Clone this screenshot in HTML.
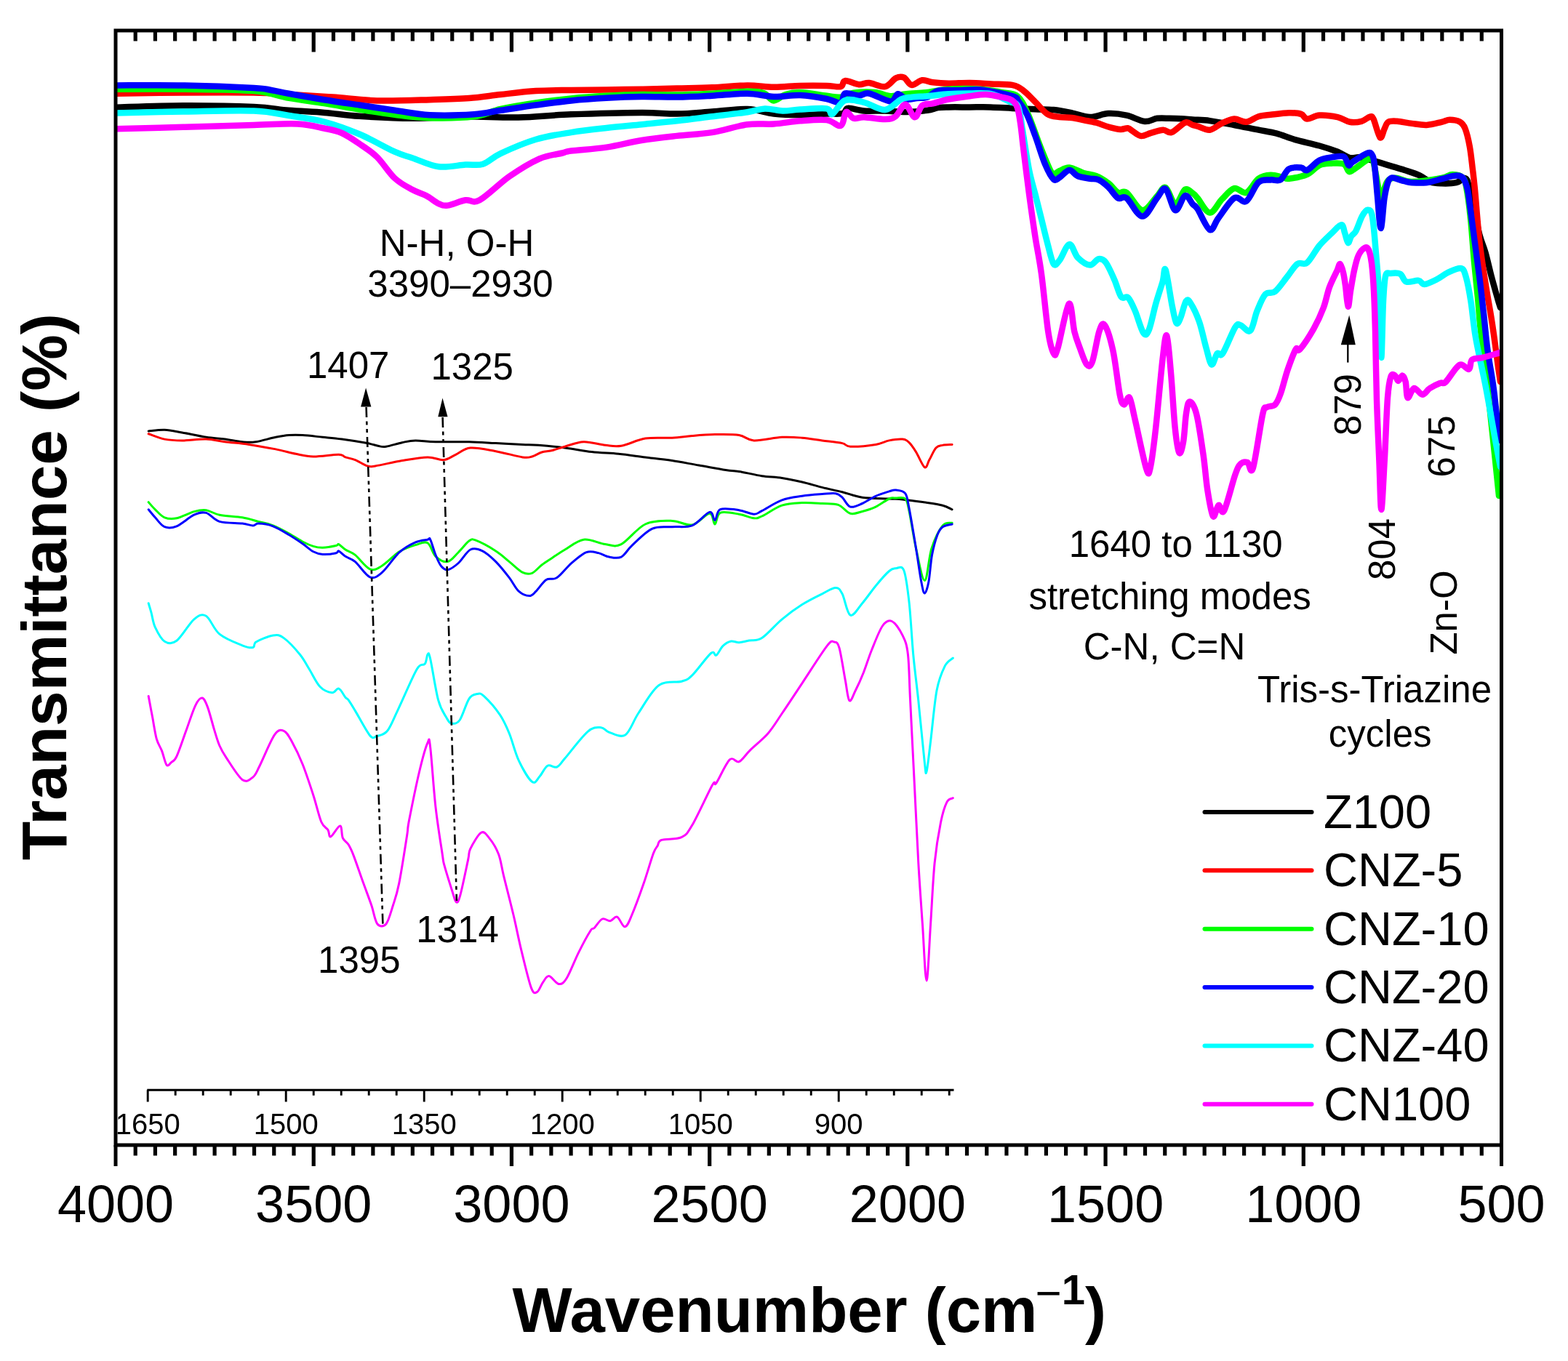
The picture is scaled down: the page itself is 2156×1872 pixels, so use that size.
<!DOCTYPE html><html><head><meta charset="utf-8"><title>FTIR spectra</title><style>html,body{margin:0;padding:0;background:#fff;}svg{display:block;}text{font-family:'Liberation Sans', Arial, Helvetica, sans-serif;fill:#000;}</style></head><body>
<svg width="2156" height="1872" viewBox="0 0 2156 1872">
<rect width="2156" height="1872" fill="#fff"/>
<defs><clipPath id="pc"><rect x="159.00" y="42.00" width="1905.50" height="1533.00"/></clipPath></defs>
<g clip-path="url(#pc)" fill="none" stroke-linejoin="round" stroke-linecap="round" stroke-width="8.5">
<path stroke="#000" d="M159.0 147.7C174.5 147.3 220.3 145.3 252.0 145.2C283.7 145.1 324.8 145.8 349.0 146.9C373.2 148.0 380.8 150.5 397.0 151.8C413.2 153.1 429.8 153.6 446.0 154.9C462.2 156.2 473.8 158.5 494.0 159.8C514.2 161.1 542.7 162.6 567.0 162.7C591.3 162.8 615.7 160.5 640.0 160.3C664.3 160.1 688.5 162.0 712.7 161.5C736.9 161.0 757.0 158.4 785.3 157.3C813.5 156.2 858.0 155.0 882.2 154.9C906.4 154.8 914.6 156.8 930.7 156.6C946.9 156.4 963.0 154.6 979.1 153.5C995.2 152.4 1013.5 149.6 1027.6 150.1C1041.7 150.6 1051.8 155.2 1063.9 156.6C1076.0 158.0 1088.2 158.3 1100.3 158.3C1112.4 158.3 1126.8 157.0 1136.6 156.6C1146.4 156.2 1154.1 157.3 1159.0 156.0C1163.9 154.7 1161.2 149.5 1166.0 148.9C1170.8 148.3 1179.5 151.9 1188.0 152.5C1196.5 153.1 1207.3 152.2 1217.0 152.5C1226.7 152.8 1236.3 154.1 1246.0 154.0C1255.7 153.9 1267.7 152.8 1275.0 151.8C1282.3 150.8 1285.2 148.8 1290.0 148.1C1294.8 147.4 1296.8 147.5 1304.0 147.4C1311.2 147.3 1323.3 147.4 1333.0 147.4C1342.7 147.4 1352.2 147.2 1362.0 147.4C1371.8 147.7 1381.8 148.4 1392.0 148.9C1402.2 149.4 1414.1 149.8 1423.5 150.2C1432.9 150.6 1440.2 150.2 1448.6 151.1C1457.0 151.9 1465.3 153.6 1473.7 155.3C1482.1 157.0 1490.4 161.0 1498.8 161.1C1507.2 161.2 1515.6 156.5 1524.0 156.1C1532.4 155.7 1540.7 156.8 1549.0 158.6C1557.3 160.4 1567.0 166.3 1574.0 167.0C1581.0 167.7 1585.3 163.5 1591.0 162.8C1596.7 162.1 1602.5 162.7 1608.0 162.8C1613.5 162.9 1618.7 163.0 1624.0 163.3C1629.3 163.6 1633.4 164.0 1640.0 164.5C1646.6 165.0 1654.0 164.8 1663.5 166.1C1673.0 167.3 1685.8 169.9 1697.0 172.0C1708.2 174.1 1720.7 176.8 1730.5 178.7C1740.3 180.6 1747.2 181.5 1755.6 183.7C1764.0 185.9 1770.9 189.3 1780.7 192.1C1790.5 194.9 1804.4 197.7 1814.2 200.5C1824.0 203.3 1832.3 206.1 1839.3 208.8C1846.3 211.6 1850.9 215.7 1856.0 217.0C1861.1 218.3 1864.2 215.7 1870.0 216.5C1875.8 217.3 1883.7 219.8 1890.5 221.7C1897.3 223.6 1904.1 225.8 1910.9 227.8C1917.7 229.9 1924.4 231.8 1931.2 234.0C1938.0 236.2 1945.7 238.4 1951.6 241.1C1957.5 243.8 1961.7 248.3 1966.8 250.2C1971.9 252.1 1976.2 252.1 1982.1 252.3C1988.0 252.5 1997.0 252.4 2002.4 251.2C2007.8 250.0 2011.7 244.4 2014.6 245.1C2017.5 245.8 2017.8 249.4 2019.7 255.3C2021.6 261.2 2023.4 269.3 2025.8 280.5C2028.2 291.7 2031.4 311.2 2034.2 322.3C2037.0 333.4 2039.7 337.6 2042.5 347.4C2045.3 357.2 2048.1 370.3 2050.9 380.9C2053.7 391.5 2057.3 404.0 2059.3 411.0C2061.3 418.0 2062.4 421.0 2063.0 423.0"/>
<path stroke="#f00" d="M159.8 128.8C175.2 128.6 220.4 127.7 251.9 127.5C283.4 127.3 324.1 127.1 348.8 127.5C373.5 127.9 381.8 129.0 400.0 130.0C418.2 131.0 438.1 132.2 457.8 133.6C477.5 135.0 496.2 137.8 518.4 138.4C540.6 139.0 569.9 137.8 591.0 137.2C612.1 136.6 628.8 136.2 645.0 135.0C661.2 133.8 673.1 131.7 688.4 130.0C703.7 128.3 720.8 126.1 736.9 125.1C753.0 124.1 769.1 124.2 785.3 123.9C801.4 123.6 817.6 123.6 833.8 123.4C849.9 123.2 866.1 123.0 882.2 122.7C898.4 122.4 914.6 121.9 930.7 121.5C946.9 121.1 963.0 121.0 979.1 120.3C995.2 119.6 1013.5 117.5 1027.6 117.4C1041.7 117.3 1051.8 119.7 1063.9 119.8C1076.0 119.9 1088.2 118.2 1100.3 117.9C1112.4 117.6 1127.3 117.7 1136.6 117.9C1145.9 118.1 1151.8 120.2 1156.0 119.1C1160.2 118.0 1157.8 111.6 1162.0 111.1C1166.2 110.6 1175.5 115.7 1181.0 116.2C1186.5 116.7 1189.0 113.5 1195.0 114.0C1201.0 114.5 1210.8 120.2 1217.0 119.1C1223.2 118.0 1227.7 109.5 1232.0 107.4C1236.3 105.3 1239.4 105.1 1243.0 106.7C1246.6 108.3 1249.3 116.3 1253.5 116.9C1257.7 117.5 1263.2 110.9 1268.0 110.3C1272.8 109.7 1276.5 112.6 1282.6 113.3C1288.7 114.0 1295.9 114.6 1304.4 114.7C1312.9 114.8 1323.8 113.9 1333.5 114.0C1343.2 114.1 1352.9 114.9 1362.6 115.4C1372.3 115.9 1384.3 115.5 1391.6 116.9C1398.9 118.3 1401.2 120.1 1406.5 124.0C1411.8 127.9 1417.9 134.7 1423.5 140.2C1429.1 145.7 1434.6 153.4 1440.2 156.9C1445.8 160.4 1451.4 160.2 1457.0 161.1C1462.6 161.9 1468.1 161.3 1473.7 162.0C1479.3 162.7 1484.9 164.2 1490.5 165.3C1496.1 166.4 1501.6 167.2 1507.2 168.7C1512.8 170.2 1518.4 173.0 1524.0 174.5C1529.6 176.0 1536.2 177.6 1540.7 177.9C1545.2 178.2 1547.9 175.8 1550.7 176.2C1553.5 176.6 1554.3 178.6 1557.4 180.4C1560.5 182.2 1565.0 186.7 1569.2 187.1C1573.4 187.5 1577.6 184.3 1582.6 182.9C1587.6 181.5 1594.6 178.8 1599.3 178.7C1604.0 178.5 1606.0 183.7 1611.0 182.0C1616.0 180.3 1624.7 170.4 1629.5 168.7C1634.3 167.0 1637.1 171.2 1640.0 172.0C1642.9 172.8 1642.8 172.6 1646.7 173.7C1650.6 174.8 1657.9 179.4 1663.5 178.7C1669.1 178.0 1674.6 172.0 1680.2 169.5C1685.8 167.0 1691.4 163.9 1697.0 163.6C1702.6 163.3 1708.1 168.4 1713.7 167.8C1719.3 167.2 1724.9 162.0 1730.5 160.3C1736.1 158.6 1740.2 158.6 1747.2 157.8C1754.2 157.0 1765.3 155.5 1772.3 155.3C1779.3 155.2 1784.8 155.5 1789.0 156.9C1793.2 158.3 1793.2 163.3 1797.4 163.6C1801.6 163.9 1807.2 159.0 1814.2 158.6C1821.2 158.2 1832.3 159.6 1839.3 161.1C1846.3 162.6 1850.5 166.9 1856.0 167.8C1861.5 168.8 1867.6 168.0 1872.2 166.8C1876.8 165.6 1880.7 161.2 1883.4 160.7C1886.1 160.2 1886.1 158.9 1888.5 163.7C1890.9 168.4 1895.1 187.0 1897.6 189.2C1900.1 191.4 1901.8 180.6 1903.7 177.0C1905.6 173.4 1905.9 169.5 1908.8 167.8C1911.7 166.1 1915.6 166.5 1921.0 166.8C1926.4 167.2 1934.6 169.1 1941.4 169.9C1948.2 170.8 1954.9 172.2 1961.7 171.9C1968.5 171.6 1976.8 169.0 1982.1 167.8C1987.4 166.6 1989.1 164.8 1993.3 164.8C1997.5 164.8 2004.0 165.8 2007.5 167.8C2011.0 169.8 2012.4 171.4 2014.6 177.0C2016.8 182.6 2019.1 192.2 2020.8 201.4C2022.5 210.6 2023.6 222.1 2024.8 231.9C2026.0 241.7 2026.3 243.5 2027.9 260.0C2029.5 276.5 2031.8 309.1 2034.2 330.7C2036.6 352.2 2039.7 371.2 2042.5 389.3C2045.3 407.4 2048.7 425.2 2050.9 439.5C2053.2 453.8 2054.5 464.1 2056.0 475.0C2057.5 485.9 2058.8 496.7 2060.0 505.0C2061.2 513.3 2062.5 521.7 2063.0 525.0"/>
<path stroke="#0f0" d="M159.8 122.7C175.2 122.7 220.4 122.3 251.9 122.7C283.4 123.1 324.6 123.1 348.8 125.1C373.0 127.1 381.1 132.0 397.2 134.8C413.3 137.6 429.5 139.5 445.7 142.1C461.9 144.7 478.0 148.0 494.2 150.6C510.4 153.2 526.5 155.9 542.6 157.8C558.7 159.7 572.8 161.8 591.0 162.2C609.2 162.6 635.4 162.3 651.6 160.3C667.8 158.3 674.2 153.1 688.4 150.0C702.6 146.9 720.8 143.9 736.9 141.5C753.0 139.1 769.1 137.0 785.3 135.4C801.4 133.8 817.6 132.7 833.8 131.8C849.9 130.9 866.1 130.3 882.2 130.1C898.4 129.9 914.6 130.8 930.7 130.6C946.9 130.4 963.0 129.5 979.1 128.7C995.2 127.9 1015.8 125.9 1027.6 125.8C1039.4 125.7 1044.0 125.9 1050.0 128.0C1056.0 130.1 1058.9 138.1 1063.9 138.4C1068.9 138.7 1073.9 131.9 1080.0 130.0C1086.1 128.1 1090.9 126.7 1100.3 127.0C1109.7 127.3 1127.3 130.7 1136.6 131.8C1145.9 132.9 1149.8 134.3 1156.0 133.6C1162.2 132.9 1165.8 128.9 1173.6 127.8C1181.4 126.7 1194.2 126.3 1202.7 127.0C1211.2 127.7 1217.2 131.8 1224.5 132.2C1231.8 132.6 1237.8 130.1 1246.3 129.2C1254.8 128.3 1265.6 128.1 1275.3 127.0C1285.0 125.9 1292.5 123.4 1304.4 122.7C1316.4 122.0 1334.9 122.0 1347.0 122.7C1359.1 123.4 1368.3 125.4 1377.0 127.0C1385.7 128.6 1392.8 127.2 1398.9 132.2C1405.0 137.2 1408.3 145.5 1413.5 156.9C1418.7 168.3 1424.8 187.3 1430.0 200.5C1435.2 213.7 1441.7 229.6 1445.0 236.0C1448.3 242.4 1448.0 239.2 1450.0 239.0C1452.0 238.8 1453.6 236.4 1457.0 235.0C1460.4 233.6 1464.9 230.1 1470.4 230.6C1475.9 231.1 1483.9 236.1 1490.0 238.0C1496.1 239.9 1501.3 239.7 1507.0 242.0C1512.7 244.3 1518.9 248.2 1524.0 252.0C1529.1 255.8 1533.2 262.8 1537.4 265.0C1541.6 267.2 1543.5 261.0 1549.1 265.0C1554.7 269.0 1563.8 288.4 1570.8 289.2C1577.8 290.0 1585.6 275.2 1590.9 270.0C1596.2 264.8 1598.5 256.2 1602.7 258.0C1606.9 259.8 1611.6 280.4 1616.1 280.8C1620.6 281.2 1625.5 263.2 1629.5 260.7C1633.5 258.2 1637.1 263.8 1640.0 265.8C1642.9 267.8 1642.8 268.0 1646.7 272.5C1650.6 277.0 1657.9 292.3 1663.5 292.6C1669.1 292.9 1674.6 279.7 1680.2 274.1C1685.8 268.5 1691.4 260.6 1697.0 259.1C1702.6 257.6 1708.1 267.1 1713.7 264.9C1719.3 262.7 1724.9 249.7 1730.5 245.7C1736.1 241.7 1741.6 241.0 1747.2 240.7C1752.8 240.4 1759.8 243.2 1764.0 244.0C1768.2 244.8 1766.7 246.4 1772.3 245.7C1777.9 245.0 1790.4 242.9 1797.4 239.8C1804.4 236.7 1808.6 229.8 1814.2 227.3C1819.8 224.8 1825.3 225.0 1830.9 224.7C1836.5 224.4 1843.8 223.8 1847.7 225.6C1851.6 227.4 1852.4 234.2 1854.4 235.6C1856.5 237.0 1855.7 236.7 1860.0 234.0C1864.3 231.3 1875.8 222.4 1880.3 219.7C1884.8 217.0 1885.1 214.6 1887.0 218.0C1888.9 221.4 1890.0 231.0 1891.9 240.0C1893.8 249.0 1896.4 269.5 1898.6 272.0C1900.8 274.5 1903.1 259.2 1905.0 255.0C1906.9 250.8 1907.3 248.7 1910.0 247.0C1912.7 245.3 1915.8 244.5 1921.0 245.0C1926.2 245.5 1930.8 250.0 1941.0 250.0C1951.2 250.0 1972.7 246.7 1982.0 245.0C1991.3 243.3 1992.0 240.0 1997.0 240.0C2002.0 240.0 2008.7 241.3 2012.0 245.0C2015.3 248.7 2015.3 252.8 2017.0 262.0C2018.7 271.2 2020.3 283.7 2022.0 300.0C2023.7 316.3 2025.3 341.7 2027.0 360.0C2028.7 378.3 2030.5 394.2 2032.0 410.0C2033.5 425.8 2033.8 435.0 2036.0 455.0C2038.2 475.0 2042.2 505.0 2045.0 530.0C2047.8 555.0 2050.3 579.7 2053.0 605.0C2055.7 630.3 2059.7 669.2 2061.0 682.0"/>
<path stroke="#00f" d="M159.8 117.4C175.2 117.4 220.4 116.8 251.9 117.4C283.4 118.0 328.6 119.9 348.8 121.0C369.0 122.1 364.9 122.7 373.0 124.0C381.1 125.3 385.1 126.6 397.2 128.8C409.3 131.0 429.5 134.6 445.7 137.2C461.9 139.8 478.0 142.1 494.2 144.5C510.4 146.9 526.5 149.5 542.6 151.8C558.7 154.1 572.8 157.4 591.0 158.3C609.2 159.2 635.4 158.4 651.6 157.3C667.8 156.2 674.2 153.9 688.4 151.8C702.6 149.7 720.8 146.7 736.9 144.5C753.0 142.3 769.1 140.0 785.3 138.4C801.4 136.8 817.6 135.7 833.8 134.8C849.9 133.9 866.1 133.3 882.2 133.1C898.4 132.9 914.6 133.8 930.7 133.6C946.9 133.4 963.0 132.5 979.1 131.7C995.2 130.9 1013.5 128.6 1027.6 128.8C1041.7 129.0 1051.8 132.6 1063.9 133.0C1076.0 133.4 1088.2 130.5 1100.3 131.0C1112.4 131.5 1127.3 134.2 1136.6 136.0C1145.9 137.8 1151.8 142.8 1156.0 141.5C1160.2 140.2 1157.8 130.2 1162.0 128.5C1166.2 126.8 1175.5 131.4 1181.0 131.4C1186.5 131.4 1187.8 127.2 1195.0 128.5C1202.2 129.8 1217.9 139.3 1224.5 139.4C1231.1 139.5 1231.0 129.7 1234.6 129.2C1238.2 128.7 1241.9 135.5 1246.3 136.5C1250.7 137.5 1256.0 135.6 1260.8 135.1C1265.6 134.6 1270.4 135.3 1275.3 133.6C1280.2 131.9 1282.7 126.5 1290.0 124.9C1297.3 123.3 1309.3 124.5 1319.0 124.2C1328.7 124.0 1338.3 122.7 1348.0 123.4C1357.7 124.1 1369.0 126.8 1377.0 128.5C1385.0 130.2 1392.2 131.9 1396.0 133.6C1399.8 135.3 1397.4 134.6 1400.0 138.5C1402.6 142.4 1407.9 148.8 1411.8 156.9C1415.7 165.0 1419.3 175.7 1423.5 187.1C1427.7 198.5 1432.7 215.7 1436.9 225.6C1441.1 235.5 1445.2 243.4 1448.6 246.5C1451.9 249.6 1453.4 246.1 1457.0 244.0C1460.6 241.9 1466.2 234.3 1470.4 234.0C1474.6 233.7 1477.4 240.4 1482.1 242.3C1486.8 244.2 1494.0 244.8 1498.8 245.7C1503.5 246.5 1506.4 245.5 1510.6 247.4C1514.8 249.3 1519.5 253.2 1524.0 257.4C1528.5 261.6 1533.2 270.0 1537.4 272.5C1541.6 275.0 1543.5 268.3 1549.1 272.5C1554.7 276.7 1563.8 297.6 1570.8 297.6C1577.8 297.6 1585.6 278.8 1590.9 272.5C1596.2 266.2 1598.5 257.1 1602.7 259.9C1606.9 262.7 1611.6 287.7 1616.1 289.2C1620.6 290.7 1625.5 270.5 1629.5 269.1C1633.5 267.7 1637.1 277.7 1640.0 280.8C1642.9 283.9 1642.8 281.6 1646.7 287.5C1650.6 293.4 1658.8 313.9 1663.5 316.0C1668.2 318.1 1669.6 307.4 1675.2 300.1C1680.8 292.9 1690.6 276.4 1697.0 272.5C1703.4 268.6 1708.1 280.3 1713.7 276.7C1719.3 273.1 1724.9 255.6 1730.5 250.7C1736.1 245.8 1742.2 247.9 1747.2 247.4C1752.2 246.9 1756.4 249.9 1760.6 247.4C1764.8 244.9 1767.6 235.1 1772.3 232.3C1777.0 229.5 1784.8 230.3 1789.0 230.6C1793.2 230.9 1793.2 235.7 1797.4 234.0C1801.6 232.3 1808.6 223.5 1814.2 220.6C1819.8 217.7 1825.3 217.2 1830.9 216.4C1836.5 215.6 1843.8 213.7 1847.7 215.5C1851.6 217.3 1852.4 226.1 1854.4 227.3C1856.5 228.5 1855.7 225.6 1860.0 222.8C1864.3 220.0 1875.7 211.9 1880.3 210.5C1884.9 209.1 1885.8 211.0 1887.5 214.6C1889.2 218.2 1889.4 222.7 1890.5 231.9C1891.6 241.1 1892.7 256.3 1894.0 270.0C1895.3 283.7 1897.0 313.5 1898.6 313.9C1900.2 314.2 1901.9 282.7 1903.6 272.1C1905.3 261.5 1906.9 254.9 1908.6 250.3C1910.3 245.7 1911.5 245.2 1913.6 244.5C1915.7 243.8 1918.1 245.4 1921.0 246.2C1923.9 247.0 1927.8 248.4 1931.2 249.2C1934.6 250.0 1936.4 250.9 1941.4 251.2C1946.4 251.5 1954.2 252.0 1961.0 251.2C1967.8 250.4 1976.0 247.7 1982.1 246.2C1988.1 244.7 1993.1 242.8 1997.3 242.1C2001.5 241.4 2005.0 241.4 2007.5 242.1C2010.0 242.8 2010.9 243.2 2012.6 246.2C2014.3 249.2 2016.3 254.3 2017.7 260.0C2019.1 265.7 2019.2 268.7 2020.8 280.5C2022.4 292.3 2025.3 314.0 2027.5 330.7C2029.7 347.4 2032.1 364.2 2034.2 380.9C2036.3 397.6 2038.1 414.1 2040.0 431.0C2041.9 447.9 2043.2 465.1 2045.5 482.0C2047.8 498.9 2050.9 513.3 2053.5 532.6C2056.1 551.9 2059.4 585.8 2061.0 598.0C2062.6 610.2 2062.7 604.7 2063.0 606.0"/>
<path stroke="#0ff" d="M159.8 155.4C175.2 155.1 220.4 154.0 251.9 153.5C283.4 153.0 324.6 151.6 348.8 152.5C373.0 153.4 381.1 156.5 397.2 159.0C413.3 161.5 429.5 163.2 445.7 167.5C461.9 171.8 478.0 177.6 494.2 184.5C510.4 191.4 530.5 203.2 542.6 208.7C554.7 214.1 556.7 213.8 566.8 217.2C576.9 220.6 591.0 227.8 603.2 229.3C615.4 230.9 629.9 227.1 640.0 226.5C650.1 225.9 655.9 228.3 664.0 225.7C672.1 223.1 676.2 216.8 688.4 211.1C700.5 205.4 720.8 196.5 736.9 191.7C753.0 186.9 769.1 184.7 785.3 182.1C801.4 179.5 817.6 177.8 833.8 176.0C849.9 174.2 866.1 172.8 882.2 171.2C898.4 169.6 914.6 168.1 930.7 166.3C946.9 164.5 963.0 162.3 979.1 160.3C995.2 158.3 1015.5 156.0 1027.6 154.2C1039.7 152.4 1043.7 149.7 1051.8 149.4C1059.9 149.1 1067.9 152.3 1076.0 152.5C1084.1 152.7 1090.2 151.1 1100.3 150.6C1110.4 150.1 1129.2 148.3 1136.6 149.4C1144.0 150.5 1140.3 158.8 1144.5 156.9C1148.7 155.0 1154.8 140.7 1162.0 138.0C1169.2 135.3 1178.8 138.7 1188.0 140.9C1197.2 143.1 1208.5 151.7 1217.0 151.0C1225.5 150.3 1232.9 139.4 1239.0 136.5C1245.1 133.6 1247.5 134.3 1253.5 133.6C1259.5 132.9 1266.5 132.9 1275.0 132.2C1283.5 131.5 1294.7 129.8 1304.4 129.2C1314.2 128.6 1323.8 128.5 1333.5 128.5C1343.2 128.5 1353.4 127.3 1362.6 129.2C1371.8 131.1 1382.5 137.1 1388.7 140.0C1394.9 142.9 1397.0 139.6 1400.0 146.9C1403.0 154.2 1404.2 169.2 1406.7 183.7C1409.2 198.2 1412.3 220.1 1415.1 234.0C1417.9 247.9 1420.7 256.2 1423.5 267.4C1426.3 278.5 1429.1 289.7 1431.9 300.9C1434.7 312.1 1437.4 324.1 1440.2 334.4C1443.0 344.7 1445.8 359.0 1448.6 362.9C1451.4 366.8 1453.4 362.4 1457.0 357.9C1460.6 353.4 1466.2 336.7 1470.4 336.1C1474.6 335.5 1477.4 349.8 1482.1 354.5C1486.8 359.2 1494.0 364.3 1498.8 364.6C1503.5 364.9 1507.0 356.8 1510.6 356.2C1514.2 355.6 1517.0 356.4 1520.6 361.2C1524.2 365.9 1528.8 376.8 1532.3 384.7C1535.8 392.6 1538.5 404.4 1541.7 408.5C1544.9 412.6 1548.0 406.2 1551.2 409.4C1554.4 412.5 1557.2 419.3 1560.7 427.4C1564.2 435.5 1568.9 453.4 1572.1 457.8C1575.3 462.2 1576.8 460.6 1579.7 454.0C1582.6 447.4 1586.1 429.0 1589.2 417.9C1592.3 406.8 1596.3 395.4 1598.6 387.6C1600.8 379.8 1600.5 365.6 1602.7 371.3C1604.9 377.0 1609.4 409.5 1611.9 421.7C1614.4 433.9 1615.7 442.0 1617.6 444.5C1619.5 447.0 1621.1 442.0 1623.3 436.9C1625.5 431.8 1628.5 417.3 1630.9 414.1C1633.3 410.9 1634.6 413.1 1637.6 417.9C1640.6 422.6 1645.5 432.5 1649.0 442.6C1652.5 452.7 1655.7 468.8 1658.5 478.6C1661.3 488.4 1663.5 500.1 1666.0 501.4C1668.5 502.7 1671.1 488.7 1673.6 486.2C1676.1 483.7 1677.1 492.2 1681.2 486.2C1685.3 480.2 1694.2 456.7 1698.3 450.2C1702.4 443.7 1702.4 446.5 1705.9 447.3C1709.4 448.1 1715.4 458.2 1719.2 454.9C1723.0 451.6 1725.1 435.8 1728.6 427.4C1732.1 419.0 1735.9 409.1 1740.0 404.7C1744.1 400.3 1748.2 405.0 1753.3 400.9C1758.4 396.8 1765.3 386.3 1770.4 380.0C1775.5 373.7 1779.5 366.0 1784.0 362.9C1788.5 359.8 1792.4 365.4 1797.4 361.2C1802.4 357.0 1808.6 344.5 1814.2 337.8C1819.8 331.1 1825.9 325.8 1830.9 321.0C1835.9 316.2 1841.3 309.5 1844.3 309.3C1847.3 309.1 1847.5 315.9 1849.0 320.0C1850.5 324.1 1852.0 333.2 1853.5 334.0C1855.0 334.8 1856.2 327.7 1858.0 325.0C1859.8 322.3 1861.9 322.3 1864.4 317.7C1866.9 313.1 1870.2 302.4 1872.8 297.6C1875.4 292.8 1877.8 288.9 1880.1 288.8C1882.4 288.7 1884.8 287.4 1886.8 297.2C1888.8 307.0 1890.2 327.9 1891.9 347.4C1893.6 366.9 1895.7 390.3 1896.9 414.4C1898.1 438.5 1898.5 491.9 1899.3 491.9C1900.1 491.9 1901.0 433.2 1902.0 414.4C1903.0 395.6 1903.5 385.6 1905.2 379.2C1906.9 372.8 1908.7 376.4 1912.0 376.0C1915.3 375.6 1921.7 374.8 1925.3 376.7C1928.9 378.6 1929.5 386.1 1933.7 387.6C1937.9 389.1 1946.3 385.3 1950.5 385.9C1954.7 386.5 1954.6 391.3 1958.8 391.0C1963.0 390.7 1970.0 387.1 1975.6 384.3C1981.2 381.5 1986.7 376.7 1992.3 374.2C1997.9 371.7 2005.1 368.1 2009.0 369.2C2012.9 370.3 2013.5 373.4 2015.7 380.9C2017.9 388.4 2020.2 400.4 2022.4 414.4C2024.6 428.3 2025.7 444.9 2029.1 464.6C2032.5 484.3 2038.5 509.2 2043.0 532.6C2047.5 556.0 2052.7 586.9 2056.0 605.1C2059.3 623.3 2061.8 635.9 2063.0 642.0"/>
<path stroke="#f0f" d="M159.8 177.2C175.2 176.8 220.4 175.7 251.9 174.8C283.4 173.9 322.6 172.6 348.8 171.9C375.1 171.2 393.2 169.7 409.4 170.5C425.5 171.3 435.6 174.4 445.7 176.5C455.8 178.6 461.9 179.4 470.0 183.0C478.1 186.6 486.1 192.3 494.2 197.8C502.3 203.3 510.3 208.1 518.4 216.0C526.5 223.9 534.5 237.5 542.6 245.0C550.7 252.5 559.5 256.8 566.8 260.8C574.1 264.9 580.1 266.1 586.2 269.3C592.3 272.5 598.4 278.0 603.2 280.2C608.1 282.4 609.2 283.4 615.3 282.6C621.4 281.8 632.6 276.5 640.0 275.3C647.4 274.1 649.3 280.8 659.4 275.3C669.5 269.9 686.9 252.1 700.6 242.6C714.3 233.1 729.6 223.8 741.7 218.4C753.8 213.1 765.9 212.3 773.2 210.5C780.5 208.7 775.2 208.8 785.3 207.5C795.4 206.2 817.6 205.0 833.8 202.6C849.9 200.2 866.1 195.6 882.2 193.0C898.4 190.4 914.6 188.7 930.7 186.9C946.9 185.1 963.0 184.7 979.1 182.1C995.2 179.5 1013.5 173.1 1027.6 171.2C1041.7 169.3 1051.8 171.3 1063.9 170.5C1076.0 169.7 1088.2 167.2 1100.3 166.3C1112.4 165.4 1127.3 164.0 1136.6 165.1C1145.9 166.2 1151.5 174.7 1156.0 172.8C1160.5 171.0 1160.5 155.7 1163.4 154.0C1166.3 152.3 1169.5 161.5 1173.6 162.7C1177.7 163.9 1180.8 161.0 1188.1 161.2C1195.4 161.4 1209.9 164.3 1217.2 164.1C1224.5 163.9 1227.1 163.2 1231.7 159.8C1236.3 156.4 1240.4 143.6 1244.8 143.8C1249.2 144.0 1254.0 161.0 1257.9 161.2C1261.8 161.4 1263.9 148.3 1268.0 145.2C1272.1 142.0 1276.5 143.8 1282.6 142.3C1288.7 140.9 1295.9 138.2 1304.4 136.5C1312.9 134.8 1325.0 133.3 1333.5 132.2C1342.0 131.1 1348.0 129.8 1355.3 130.0C1362.6 130.2 1371.0 132.3 1377.1 133.6C1383.1 134.9 1388.0 135.6 1391.6 138.0C1395.2 140.4 1396.9 142.4 1398.9 148.1C1400.9 153.8 1402.1 163.3 1403.4 172.0C1404.7 180.7 1404.8 184.6 1406.7 200.5C1408.7 216.4 1412.3 246.5 1415.1 267.4C1417.9 288.3 1420.7 307.9 1423.5 326.0C1426.3 344.1 1429.0 354.7 1431.9 376.3C1434.9 397.9 1438.4 437.6 1441.2 455.9C1444.0 474.2 1446.6 482.4 1448.8 486.2C1451.0 490.0 1451.0 490.0 1454.5 478.6C1458.0 467.2 1465.9 421.7 1469.7 417.9C1473.5 414.1 1474.8 445.8 1477.3 455.9C1479.8 466.0 1482.0 471.0 1484.8 478.6C1487.6 486.2 1491.4 498.2 1494.3 501.4C1497.2 504.6 1499.1 505.2 1501.9 497.6C1504.8 490.0 1508.6 464.3 1511.4 455.9C1514.2 447.5 1515.8 442.9 1519.0 447.3C1522.2 451.7 1526.9 466.4 1530.4 482.4C1533.9 498.4 1537.3 530.8 1539.8 543.1C1542.3 555.4 1543.3 555.8 1545.5 556.4C1547.7 557.0 1550.6 543.4 1553.1 546.9C1555.6 550.4 1556.9 561.2 1560.7 577.3C1564.5 593.4 1572.4 632.6 1575.9 643.7C1579.4 654.8 1579.4 652.9 1581.6 643.7C1583.8 634.5 1586.4 613.6 1589.2 588.6C1592.0 563.6 1596.1 515.0 1598.6 493.8C1601.1 472.6 1602.4 458.4 1604.3 461.6C1606.2 464.8 1608.1 491.6 1610.0 512.8C1611.9 534.0 1613.8 570.3 1615.7 588.6C1617.6 606.9 1619.5 619.6 1621.4 622.8C1623.3 626.0 1625.5 616.5 1627.1 607.6C1628.7 598.8 1629.5 578.9 1630.9 569.7C1632.3 560.5 1633.3 552.6 1635.7 552.6C1638.1 552.6 1642.0 557.4 1645.2 569.7C1648.4 582.0 1652.2 609.2 1654.7 626.6C1657.2 644.0 1658.1 660.1 1660.3 674.0C1662.5 687.9 1665.4 706.5 1667.9 710.0C1670.4 713.5 1673.0 696.1 1675.5 694.9C1678.0 693.6 1679.3 709.5 1683.1 702.5C1686.9 695.5 1694.5 663.9 1698.3 653.1C1702.1 642.4 1703.1 640.8 1705.9 638.0C1708.8 635.2 1712.6 635.1 1715.4 636.1C1718.2 637.1 1719.4 654.8 1722.9 643.7C1726.4 632.6 1733.0 583.6 1736.2 569.7C1739.4 555.8 1739.1 562.4 1741.9 560.2C1744.8 558.0 1750.1 559.6 1753.3 556.4C1756.5 553.2 1758.1 549.1 1760.9 541.2C1763.8 533.3 1766.9 519.1 1770.4 509.0C1773.9 498.9 1778.9 485.2 1781.7 480.5C1784.5 475.8 1783.3 485.2 1787.4 480.5C1791.5 475.8 1801.0 461.6 1806.4 452.1C1811.8 442.6 1816.1 433.1 1819.7 423.6C1823.3 414.1 1824.8 403.6 1828.0 395.0C1831.2 386.4 1836.1 377.3 1838.6 372.0C1841.0 366.7 1841.3 362.5 1842.7 363.0C1844.1 363.5 1845.8 370.0 1847.0 375.0C1848.2 380.0 1848.9 385.2 1850.0 393.0C1851.1 400.8 1852.4 420.3 1853.6 421.5C1854.8 422.7 1855.6 408.2 1857.0 400.0C1858.4 391.8 1860.2 380.2 1862.0 372.0C1863.8 363.8 1865.5 356.2 1868.0 351.0C1870.5 345.8 1874.5 341.9 1876.8 340.7C1879.1 339.5 1880.5 340.4 1882.0 344.0C1883.5 347.6 1884.8 352.7 1886.0 362.0C1887.2 371.3 1888.2 384.5 1889.0 400.0C1889.8 415.5 1890.3 430.0 1891.0 455.0C1891.7 480.0 1892.1 520.2 1893.0 550.0C1893.9 579.8 1895.4 608.8 1896.4 634.0C1897.5 659.2 1898.1 701.0 1899.3 701.0C1900.5 701.0 1902.2 659.8 1903.7 634.1C1905.2 608.5 1906.5 566.5 1908.0 547.1C1909.5 527.8 1910.7 523.1 1912.4 518.0C1914.1 512.9 1916.5 515.6 1918.2 516.6C1919.9 517.6 1920.9 523.9 1922.6 523.9C1924.3 523.9 1926.7 516.4 1928.4 516.6C1930.1 516.8 1931.5 520.2 1932.7 525.3C1933.9 530.4 1933.7 545.6 1935.6 547.1C1937.5 548.6 1940.9 534.7 1944.3 534.0C1947.7 533.3 1952.3 542.7 1955.9 542.7C1959.5 542.7 1962.0 536.6 1966.1 534.0C1970.2 531.4 1977.0 528.2 1980.6 526.8C1984.2 525.3 1983.6 529.4 1987.9 525.3C1992.2 521.2 2001.4 505.0 2006.7 502.1C2012.0 499.2 2016.9 509.1 2019.8 507.9C2022.7 506.7 2020.9 497.5 2024.1 494.8C2027.2 492.1 2032.9 493.3 2038.7 491.9C2044.5 490.4 2054.9 487.3 2059.0 486.1C2063.0 484.9 2062.3 484.9 2063.0 484.7"/>
</g>
<g fill="none" stroke-linejoin="round" stroke-linecap="round" stroke-width="3.0">
<path stroke="#000" d="M204.2 593.0C207.9 592.7 218.6 590.9 226.3 591.2C234.0 591.5 240.8 593.2 250.3 594.9C259.8 596.6 273.6 599.8 283.4 601.3C293.2 602.8 300.9 603.0 309.2 604.1C317.5 605.2 326.1 607.2 333.2 607.8C340.3 608.4 343.9 608.9 351.6 607.8C359.3 606.7 371.5 602.8 379.2 601.3C386.9 599.8 391.5 599.0 397.6 598.6C403.7 598.2 408.3 598.2 416.0 598.6C423.7 599.0 434.7 600.4 443.7 601.3C452.7 602.2 459.8 602.7 470.0 604.1C480.2 605.5 496.7 608.1 505.0 609.6C513.3 611.1 515.4 612.5 519.7 613.3C524.0 614.1 525.3 615.0 530.8 614.2C536.3 613.4 546.1 610.1 552.9 608.7C559.6 607.3 563.6 606.0 571.3 605.9C579.0 605.8 586.7 607.5 599.0 607.8C611.3 608.1 631.2 607.5 645.0 607.8C658.8 608.1 669.5 609.0 681.8 609.6C694.1 610.2 709.0 611.0 718.7 611.4C728.4 611.8 730.3 611.5 740.0 612.3C749.7 613.1 764.5 614.5 776.8 616.0C789.1 617.5 801.4 620.2 813.7 621.6C826.0 623.0 838.2 623.1 850.5 624.3C862.8 625.5 875.0 627.4 887.3 628.9C899.6 630.4 911.8 631.6 924.1 633.5C936.4 635.4 948.7 637.9 961.0 640.0C973.3 642.1 988.0 644.9 997.8 646.4C1007.6 647.9 1011.7 647.8 1020.0 649.2C1028.3 650.6 1038.4 653.3 1047.6 654.7C1056.8 656.1 1066.0 656.1 1075.2 657.5C1084.4 658.9 1093.7 660.9 1102.9 663.0C1112.1 665.1 1121.3 668.1 1130.5 670.4C1139.7 672.7 1148.9 674.5 1158.1 676.8C1167.3 679.1 1175.0 682.7 1185.7 684.2C1196.5 685.7 1213.4 685.5 1222.6 686.0C1231.8 686.5 1233.3 686.1 1241.0 686.9C1248.7 687.7 1259.4 689.2 1268.6 690.6C1277.8 692.0 1289.5 693.5 1296.2 695.2C1303.0 696.9 1306.9 699.9 1309.1 700.8"/>
<path stroke="#f00" d="M204.2 596.7C207.9 597.9 218.6 602.6 226.3 604.1C234.0 605.6 240.8 605.9 250.3 605.9C259.8 605.9 273.6 603.8 283.4 604.1C293.2 604.4 299.4 606.6 309.2 607.8C319.0 609.0 330.7 609.7 342.4 611.4C354.1 613.1 368.5 615.8 379.2 617.9C389.9 620.0 398.2 622.6 406.8 624.3C415.4 626.0 421.0 627.8 430.8 628.0C440.6 628.2 458.4 625.1 465.8 625.3C473.2 625.4 471.2 627.7 475.0 628.9C478.8 630.1 483.4 630.6 488.4 632.6C493.4 634.6 500.4 639.5 505.0 640.9C509.6 642.3 508.1 642.1 516.1 640.9C524.1 639.7 540.9 635.6 552.9 633.6C564.9 631.6 578.4 629.1 587.9 628.9C597.4 628.7 603.5 633.2 610.0 632.6C616.5 632.0 620.5 628.0 626.6 625.3C632.7 622.5 637.6 616.9 646.8 616.1C656.0 615.3 669.8 618.6 681.8 620.7C693.8 622.8 710.4 627.7 718.7 628.9C727.0 630.1 727.2 629.1 731.6 628.0C736.0 626.9 740.5 623.4 745.0 622.0C749.5 620.6 753.1 621.0 758.4 619.7C763.7 618.4 769.4 616.2 776.8 614.2C784.2 612.2 793.4 608.0 802.6 607.7C811.8 607.4 823.5 611.4 832.1 612.3C840.7 613.2 845.0 614.8 854.2 613.3C863.4 611.8 875.6 605.0 887.3 603.1C898.9 601.2 913.4 602.8 924.1 602.2C934.8 601.6 941.9 600.3 951.7 599.5C961.5 598.7 972.2 597.8 983.0 597.6C993.8 597.4 1007.3 597.1 1016.2 598.5C1025.1 599.9 1026.8 605.4 1036.6 605.9C1046.4 606.4 1064.2 601.9 1075.2 601.3C1086.2 600.7 1093.7 601.4 1102.9 602.2C1112.1 603.0 1121.3 604.7 1130.5 605.9C1139.7 607.1 1151.6 608.2 1158.1 609.6C1164.5 611.0 1161.5 613.9 1169.2 614.2C1176.9 614.5 1195.3 612.8 1204.2 611.4C1213.1 610.0 1216.5 607.1 1222.6 605.9C1228.7 604.7 1236.4 603.6 1241.0 604.1C1245.6 604.6 1246.9 605.8 1250.0 608.7C1253.1 611.6 1255.9 615.9 1259.5 621.6C1263.1 627.3 1268.4 640.9 1271.4 642.7C1274.5 644.5 1275.2 637.1 1277.8 632.6C1280.4 628.1 1283.9 619.4 1287.0 616.0C1290.1 612.6 1292.5 613.2 1296.2 612.4C1299.9 611.6 1306.9 611.6 1309.1 611.4"/>
<path stroke="#0f0" d="M204.2 690.7C205.7 692.4 209.7 697.3 213.4 700.8C217.1 704.3 221.4 709.8 226.3 711.8C231.2 713.8 236.2 714.2 242.9 712.8C249.7 711.4 260.1 705.5 266.8 703.6C273.6 701.8 277.6 700.9 283.4 701.7C289.2 702.5 293.5 706.5 301.8 708.2C310.1 709.9 324.3 710.3 333.2 711.8C342.1 713.3 348.2 715.5 355.3 717.4C362.4 719.2 368.4 720.1 375.5 722.9C382.6 725.7 390.9 730.3 397.6 734.0C404.4 737.7 410.5 742.1 416.0 745.0C421.5 747.9 426.2 750.0 430.8 751.4C435.4 752.8 438.5 753.4 443.7 753.3C448.9 753.1 458.4 751.3 462.1 750.5C465.8 749.7 463.7 747.8 465.8 748.7C467.9 749.6 471.2 753.5 475.0 756.0C478.8 758.5 482.8 758.9 488.4 763.4C494.0 767.9 502.6 780.3 508.7 782.8C514.9 785.3 518.5 782.2 525.3 778.2C532.0 774.2 541.5 763.6 549.2 758.8C556.9 754.0 564.8 751.6 571.3 749.6C577.8 747.6 583.3 744.2 587.9 746.8C592.5 749.4 594.4 761.0 599.0 765.3C603.6 769.6 610.3 773.5 615.5 772.6C620.7 771.7 625.4 764.5 630.3 759.7C635.2 755.0 641.0 746.9 645.0 744.1C649.0 741.4 648.1 740.9 654.2 743.2C660.3 745.5 674.1 753.0 681.8 757.9C689.5 762.8 694.1 767.7 700.3 772.6C706.4 777.5 713.5 784.8 718.7 787.4C723.9 790.0 727.2 790.0 731.6 788.3C736.0 786.6 740.5 780.4 745.0 777.0C749.5 773.6 753.1 771.4 758.4 767.9C763.7 764.4 769.4 760.3 776.8 756.0C784.2 751.7 793.4 743.4 802.6 742.2C811.8 741.0 823.5 747.5 832.1 748.6C840.7 749.7 845.0 753.2 854.2 748.6C863.4 744.0 875.6 726.4 887.3 721.0C898.9 715.6 913.4 716.2 924.1 716.4C934.8 716.5 943.1 723.6 951.7 721.9C960.3 720.2 970.5 706.4 975.7 706.3C980.9 706.1 980.5 721.2 983.0 721.0C985.5 720.8 984.9 707.6 990.4 705.3C995.9 703.0 1008.5 706.0 1016.2 707.2C1023.9 708.4 1031.4 712.2 1036.6 712.7C1041.8 713.2 1041.2 712.9 1047.6 710.0C1054.0 707.1 1066.0 698.3 1075.2 695.2C1084.4 692.1 1093.7 692.0 1102.9 691.5C1112.1 691.0 1122.2 692.0 1130.5 692.5C1138.8 693.0 1146.1 692.0 1152.6 694.3C1159.0 696.6 1163.7 704.8 1169.2 706.3C1174.7 707.8 1179.9 705.0 1185.7 703.5C1191.5 702.0 1198.1 700.0 1204.2 697.1C1210.3 694.2 1218.0 688.0 1222.6 686.0C1227.2 684.0 1228.1 685.1 1231.8 685.1C1235.5 685.1 1241.7 683.1 1244.7 686.0C1247.7 688.9 1247.5 691.2 1250.0 702.6C1252.5 714.0 1255.9 738.2 1259.5 754.2C1263.1 770.2 1267.8 798.4 1271.4 798.4C1275.0 798.4 1276.9 766.8 1281.0 754.2C1285.1 741.6 1291.5 728.7 1296.2 722.9C1300.9 717.1 1306.9 719.8 1309.1 719.2"/>
<path stroke="#00f" d="M204.2 700.8C205.7 702.6 209.7 707.8 213.4 711.8C217.1 715.8 221.4 722.7 226.3 724.7C231.2 726.7 236.2 726.5 242.9 723.8C249.7 721.0 260.1 711.3 266.8 708.2C273.6 705.1 277.6 703.9 283.4 705.4C289.2 706.9 293.5 714.9 301.8 717.4C310.1 719.9 325.5 719.2 333.2 720.1C340.9 721.0 344.2 722.9 347.9 722.9C351.6 722.9 350.7 720.0 355.3 720.1C359.9 720.2 368.4 721.2 375.5 723.8C382.6 726.4 390.9 731.8 397.6 735.8C404.4 739.8 410.5 744.0 416.0 747.8C421.5 751.6 426.2 756.3 430.8 758.8C435.4 761.2 438.5 762.2 443.7 762.5C448.9 762.8 458.4 761.5 462.1 760.7C465.8 759.9 463.7 757.1 465.8 757.9C467.9 758.7 471.2 762.8 475.0 765.3C478.8 767.8 482.8 767.9 488.4 772.6C494.0 777.4 502.6 791.3 508.7 793.8C514.9 796.3 518.5 793.1 525.3 787.4C532.0 781.7 541.5 766.6 549.2 759.7C556.9 752.8 564.8 748.8 571.3 745.9C577.8 743.0 584.5 742.9 587.9 742.2C591.3 741.6 589.8 738.5 591.6 742.0C593.5 745.5 596.5 757.4 599.0 763.4C601.5 769.4 603.5 774.8 606.3 778.2C609.0 781.6 611.5 784.3 615.5 783.7C619.5 783.1 625.1 779.1 630.3 774.5C635.5 769.9 641.3 758.8 646.8 756.0C652.3 753.2 657.6 755.1 663.4 757.9C669.2 760.7 675.6 766.5 681.8 772.6C687.9 778.7 695.1 787.9 700.3 794.7C705.5 801.5 708.6 809.1 713.2 813.2C717.8 817.4 723.9 819.6 727.9 819.6C731.9 819.6 733.2 816.9 737.1 813.2C741.0 809.5 746.2 800.5 751.0 797.4C755.8 794.3 760.0 798.4 765.8 794.6C771.6 790.8 779.2 780.2 786.0 774.4C792.8 768.6 800.1 762.0 806.3 759.7C812.4 757.4 817.7 759.5 822.9 760.6C828.1 761.7 832.4 765.2 837.6 766.1C842.8 767.0 849.0 768.7 854.2 766.1C859.4 763.5 861.9 756.9 868.9 750.4C875.9 743.9 887.3 731.7 896.5 727.4C905.7 723.1 914.9 725.5 924.1 724.7C933.3 723.9 943.1 726.2 951.7 722.8C960.3 719.4 970.5 705.6 975.7 704.4C980.9 703.2 980.5 716.1 983.0 715.5C985.5 714.9 984.9 703.0 990.4 700.7C995.9 698.4 1008.5 700.6 1016.2 701.7C1023.9 702.8 1031.4 707.1 1036.6 707.2C1041.8 707.4 1041.2 705.8 1047.6 702.6C1054.0 699.4 1066.0 691.3 1075.2 687.9C1084.4 684.5 1093.7 683.7 1102.9 682.3C1112.1 680.9 1122.8 680.2 1130.5 679.6C1138.2 679.0 1144.3 677.9 1148.9 678.7C1153.5 679.5 1154.7 681.1 1158.1 684.2C1161.5 687.3 1164.6 695.7 1169.2 697.1C1173.8 698.5 1179.9 695.0 1185.7 692.5C1191.5 690.0 1198.1 685.1 1204.2 682.3C1210.3 679.5 1218.0 677.3 1222.6 675.9C1227.2 674.5 1228.1 673.6 1231.8 674.1C1235.5 674.6 1241.7 674.6 1244.7 678.7C1247.7 682.8 1247.5 686.3 1250.0 698.9C1252.5 711.5 1256.7 737.3 1259.5 754.2C1262.3 771.1 1264.8 789.9 1266.8 800.2C1268.8 810.5 1269.7 815.9 1271.4 815.9C1273.1 815.9 1275.2 809.0 1276.9 800.2C1278.6 791.5 1279.5 774.1 1281.5 763.4C1283.5 752.6 1286.5 742.2 1288.9 735.7C1291.4 729.2 1292.8 727.2 1296.2 724.7C1299.6 722.2 1306.9 721.6 1309.1 721.0"/>
<path stroke="#0ff" d="M204.2 829.7C204.8 831.9 206.5 837.1 208.0 842.6C209.5 848.1 210.3 856.3 213.4 862.9C216.5 869.5 221.4 879.1 226.3 882.2C231.2 885.3 236.2 886.4 242.9 881.3C249.7 876.2 260.1 857.5 266.8 851.8C273.6 846.1 277.6 843.8 283.4 847.2C289.2 850.6 293.5 865.3 301.8 872.1C310.1 878.9 325.5 884.7 333.2 887.8C340.9 890.9 344.8 891.3 347.9 890.5C351.0 889.7 347.9 886.0 351.6 883.2C356.2 880.5 369.1 874.9 375.5 874.0C381.9 873.1 384.2 873.2 390.3 877.6C396.4 882.0 406.6 893.1 412.4 900.3C418.2 907.4 420.7 913.1 425.3 920.5C429.9 927.9 434.8 939.1 440.0 944.5C445.2 949.9 452.3 952.3 456.6 952.8C460.9 953.2 462.7 946.1 465.8 947.2C468.9 948.3 472.8 956.6 475.0 959.2C477.2 961.8 477.0 959.8 479.2 962.9C481.4 966.0 483.5 969.5 488.4 977.6C493.3 985.7 503.8 1005.9 508.7 1011.7C513.6 1017.5 513.9 1013.7 517.9 1012.6C521.9 1011.5 527.7 1011.4 532.6 1005.3C537.5 999.2 540.6 989.9 547.4 975.8C554.2 961.7 567.1 930.9 573.2 920.5C579.3 910.1 581.8 916.6 584.2 913.2C586.7 909.8 586.7 901.5 587.9 900.3C589.1 899.1 589.1 895.4 591.6 905.8C594.1 916.2 598.9 949.4 602.6 962.9C606.3 976.4 610.6 981.4 613.7 986.8C616.8 992.2 617.9 994.5 621.0 995.1C624.1 995.7 628.1 996.2 632.1 990.5C636.1 984.8 641.0 967.1 645.0 961.1C649.0 955.1 652.6 955.2 656.0 954.6C659.4 954.0 660.1 952.6 665.3 957.4C670.5 962.2 681.6 974.6 687.4 983.2C693.2 991.8 696.0 998.5 700.3 1008.9C704.6 1019.3 708.0 1034.7 713.2 1045.8C718.4 1056.9 726.8 1071.6 731.6 1075.3C736.4 1079.0 738.5 1071.7 742.0 1068.0C745.5 1064.3 748.9 1055.4 752.9 1053.2C756.9 1051.0 761.8 1056.7 765.8 1055.0C769.8 1053.3 769.8 1051.2 776.8 1043.1C783.8 1035.0 799.8 1013.4 808.1 1006.3C816.4 999.2 821.6 1000.6 826.5 1000.7C831.4 1000.9 832.1 1005.5 837.6 1007.2C843.1 1008.9 853.0 1015.4 859.7 1010.9C866.5 1006.4 870.4 991.9 878.1 980.5C885.8 969.1 895.9 949.9 905.7 942.7C915.5 935.5 929.3 939.5 937.0 937.2C944.7 934.9 945.0 935.4 951.7 928.9C958.5 922.4 972.0 903.1 977.5 898.5C983.0 893.9 982.1 903.0 984.9 901.3C987.7 899.6 990.7 891.6 994.1 888.4C997.5 885.2 1001.4 882.8 1005.1 882.0C1008.8 881.2 1012.1 884.0 1016.2 883.8C1020.4 883.6 1024.8 882.0 1030.0 881.0C1035.2 880.0 1040.1 882.4 1047.6 877.5C1055.1 872.6 1066.0 859.5 1075.2 851.8C1084.4 844.1 1093.7 837.3 1102.9 831.5C1112.1 825.7 1122.8 820.6 1130.5 816.8C1138.2 813.0 1144.3 808.5 1148.9 808.5C1153.5 808.5 1154.7 810.5 1158.1 816.8C1161.5 823.1 1164.6 844.1 1169.2 846.2C1173.8 848.4 1179.9 836.5 1185.7 829.7C1191.5 823.0 1198.1 813.1 1204.2 805.7C1210.3 798.3 1218.0 789.5 1222.6 785.5C1227.2 781.5 1228.4 782.0 1231.8 781.8C1235.2 781.6 1239.8 776.8 1242.8 784.5C1245.8 792.2 1247.8 808.5 1250.0 827.8C1252.2 847.0 1253.6 877.4 1255.7 900.0C1257.8 922.6 1260.2 939.1 1262.8 963.7C1265.4 988.3 1269.3 1031.2 1271.2 1047.5C1273.1 1063.8 1272.6 1066.1 1274.0 1061.4C1275.4 1056.7 1277.3 1038.1 1279.6 1019.5C1281.9 1000.9 1284.8 967.0 1288.0 949.8C1291.2 932.6 1295.4 923.8 1299.1 916.3C1302.8 908.8 1308.4 907.0 1310.3 905.1"/>
<path stroke="#f0f" d="M204.2 957.4C205.1 962.3 207.8 977.0 209.7 986.8C211.5 996.6 213.2 1008.6 215.3 1016.3C217.5 1024.0 220.3 1026.9 222.6 1032.9C224.9 1038.9 226.9 1049.6 229.1 1052.2C231.2 1054.8 233.2 1050.6 235.5 1048.6C237.8 1046.6 239.5 1047.5 242.9 1040.3C246.3 1033.1 251.5 1017.0 255.8 1005.3C260.1 993.6 265.0 977.8 268.7 970.3C272.4 962.8 275.1 959.8 277.9 960.1C280.7 960.4 282.5 964.9 285.3 972.1C288.1 979.3 291.8 994.5 294.5 1003.4C297.2 1012.3 299.0 1019.0 301.8 1025.5C304.6 1032.0 305.9 1034.3 311.1 1042.1C316.3 1049.9 327.1 1068.0 333.2 1072.5C339.3 1077.0 343.9 1072.0 347.9 1068.8C351.9 1065.6 352.2 1062.9 357.1 1053.2C362.0 1043.5 371.9 1018.8 377.4 1010.8C382.9 1002.8 386.3 1003.8 390.3 1005.3C394.3 1006.8 397.0 1012.3 401.3 1020.0C405.6 1027.7 411.2 1039.0 416.1 1051.3C421.0 1063.6 426.5 1080.5 430.8 1093.7C435.1 1106.9 438.4 1122.5 441.8 1130.5C445.2 1138.5 448.9 1138.2 451.0 1141.6C453.1 1145.0 451.9 1151.7 454.7 1150.8C457.5 1149.9 464.8 1135.7 467.6 1136.0C470.4 1136.3 469.4 1148.3 471.3 1152.6C473.2 1156.9 476.7 1157.7 479.2 1161.8C481.7 1165.9 482.9 1168.2 486.3 1177.1C489.7 1186.0 495.7 1203.8 499.8 1215.1C503.9 1226.4 507.5 1235.7 510.7 1245.0C513.9 1254.3 515.4 1266.4 518.8 1270.7C522.2 1275.0 527.4 1275.0 531.0 1270.7C534.6 1266.4 537.5 1254.3 540.5 1245.0C543.5 1235.7 545.5 1230.9 548.7 1215.1C551.9 1199.3 557.3 1164.1 559.5 1150.0C561.7 1135.9 559.5 1145.4 562.1 1130.5C565.0 1115.6 572.5 1078.6 576.8 1060.5C581.1 1042.4 585.4 1027.3 587.9 1021.8C590.4 1016.3 589.8 1012.7 591.6 1027.4C593.5 1042.2 596.2 1085.8 599.0 1110.3C601.8 1134.8 606.2 1161.3 608.2 1174.7C610.2 1188.1 608.8 1182.2 611.1 1190.7C613.4 1199.2 619.2 1217.6 621.9 1226.0C624.6 1234.4 625.6 1240.0 627.4 1240.9C629.2 1241.8 630.1 1241.1 632.8 1231.4C635.5 1221.7 641.3 1193.3 643.6 1182.6C645.9 1171.9 643.8 1173.6 646.8 1167.4C649.8 1161.2 657.3 1147.8 661.6 1145.3C665.9 1142.8 668.6 1147.7 672.6 1152.6C676.6 1157.5 682.2 1166.1 685.5 1174.7C688.8 1183.3 689.1 1190.3 692.5 1204.3C695.9 1218.3 701.9 1241.3 706.0 1258.5C710.1 1275.7 712.8 1290.7 716.9 1307.4C721.0 1324.1 726.9 1349.4 730.5 1358.9C734.1 1368.4 735.9 1365.7 738.6 1364.3C741.3 1362.9 744.0 1354.4 746.7 1350.8C749.4 1347.2 751.3 1342.1 754.9 1342.6C758.5 1343.0 764.3 1353.0 768.4 1353.5C772.5 1354.0 774.8 1352.5 779.3 1345.3C783.8 1338.1 790.2 1320.9 795.6 1310.1C801.0 1299.2 808.3 1285.8 811.9 1280.2C815.5 1274.6 814.6 1278.9 817.3 1276.2C820.0 1273.5 824.5 1265.6 828.1 1264.0C831.7 1262.4 835.6 1267.2 839.0 1266.7C842.4 1266.2 845.1 1259.9 848.5 1261.2C851.9 1262.5 855.9 1275.2 859.3 1274.8C862.7 1274.3 864.5 1268.5 868.8 1258.5C873.1 1248.5 880.2 1229.2 885.1 1215.1C890.0 1201.0 895.2 1182.4 898.4 1173.8C901.6 1165.2 902.3 1166.7 904.1 1163.6C905.9 1160.5 904.1 1157.4 909.4 1155.4C914.9 1153.4 930.0 1155.1 937.0 1151.7C944.0 1148.3 944.6 1147.1 951.7 1135.1C958.8 1123.1 973.9 1089.6 979.4 1079.9C984.9 1070.2 980.9 1082.9 984.9 1077.1C988.9 1071.3 998.1 1049.8 1003.3 1044.9C1008.5 1040.0 1011.6 1049.8 1016.2 1047.7C1020.9 1045.6 1024.5 1038.6 1031.2 1032.1C1037.9 1025.5 1048.9 1017.0 1056.3 1008.4C1063.7 999.8 1067.9 992.1 1075.8 980.5C1083.7 968.9 1093.5 954.0 1103.7 938.6C1113.9 923.2 1130.0 897.6 1137.2 888.4C1144.4 879.1 1144.3 882.6 1147.1 883.1C1149.9 883.6 1151.5 882.4 1154.0 891.2C1156.5 900.0 1160.0 923.7 1162.3 935.8C1164.6 947.9 1165.6 961.4 1167.9 963.7C1170.2 966.0 1173.0 956.3 1176.3 949.8C1179.6 943.3 1183.8 934.0 1187.5 924.7C1191.2 915.4 1194.3 904.6 1198.6 894.0C1202.9 883.4 1208.8 867.6 1213.4 861.0C1218.0 854.4 1221.7 852.4 1226.3 854.5C1230.9 856.6 1237.3 866.3 1241.0 873.9C1244.7 881.5 1246.6 885.0 1248.4 900.0C1250.2 915.0 1250.1 934.5 1251.6 963.7C1253.1 992.9 1255.3 1038.2 1257.2 1075.4C1259.1 1112.6 1260.9 1154.5 1262.8 1187.0C1264.7 1219.5 1266.5 1243.7 1268.4 1270.7C1270.3 1297.7 1272.1 1348.9 1274.0 1348.9C1275.9 1348.9 1277.8 1297.7 1279.6 1270.7C1281.4 1243.7 1282.8 1210.2 1285.1 1187.0C1287.4 1163.8 1290.7 1145.2 1293.5 1131.2C1296.3 1117.2 1299.1 1108.9 1301.9 1103.3C1304.7 1097.7 1308.9 1098.6 1310.3 1097.7"/>
</g>
<g stroke="#000" stroke-width="2.6" fill="none" stroke-dasharray="14 5.5 5 5.5 5 6">
<path d="M503.6 560 L526.4 1271.5"/>
<path d="M608.6 574 L627.9 1239"/>
</g>
<g fill="#000">
<path d="M503.1 533.6 L510.4 559.5 L496.1 559.5 Z"/>
<path d="M608.5 547.5 L615.5 573.3 L602.3 573.3 Z"/>
<path d="M1855.2 433.4 L1863.8 474.3 L1843.8 474.3 Z"/>
</g>
<path d="M1853.3 474 L1853.3 498.6" stroke="#000" stroke-width="2.3"/>
<g stroke="#000" fill="none">
<rect x="159.00" y="42.00" width="1905.50" height="1533.00" stroke-width="5.0"/>
<path d="M159.00 1575.00 V1604 M2064.50 1575.00 V1604" stroke-width="5.0"/>
<path d="M186.22 42.00 V56.50 M186.22 1575.00 V1589.50 M213.44 42.00 V56.50 M213.44 1575.00 V1589.50 M240.66 42.00 V56.50 M240.66 1575.00 V1589.50 M267.89 42.00 V56.50 M267.89 1575.00 V1589.50 M295.11 42.00 V56.50 M295.11 1575.00 V1589.50 M322.33 42.00 V56.50 M322.33 1575.00 V1589.50 M349.55 42.00 V56.50 M349.55 1575.00 V1589.50 M376.77 42.00 V56.50 M376.77 1575.00 V1589.50 M403.99 42.00 V56.50 M403.99 1575.00 V1589.50 M431.21 42.00 V71.50 M431.21 1575.00 V1604.00 M458.44 42.00 V56.50 M458.44 1575.00 V1589.50 M485.66 42.00 V56.50 M485.66 1575.00 V1589.50 M512.88 42.00 V56.50 M512.88 1575.00 V1589.50 M540.10 42.00 V56.50 M540.10 1575.00 V1589.50 M567.32 42.00 V56.50 M567.32 1575.00 V1589.50 M594.54 42.00 V56.50 M594.54 1575.00 V1589.50 M621.76 42.00 V56.50 M621.76 1575.00 V1589.50 M648.99 42.00 V56.50 M648.99 1575.00 V1589.50 M676.21 42.00 V56.50 M676.21 1575.00 V1589.50 M703.43 42.00 V71.50 M703.43 1575.00 V1604.00 M730.65 42.00 V56.50 M730.65 1575.00 V1589.50 M757.87 42.00 V56.50 M757.87 1575.00 V1589.50 M785.09 42.00 V56.50 M785.09 1575.00 V1589.50 M812.31 42.00 V56.50 M812.31 1575.00 V1589.50 M839.54 42.00 V56.50 M839.54 1575.00 V1589.50 M866.76 42.00 V56.50 M866.76 1575.00 V1589.50 M893.98 42.00 V56.50 M893.98 1575.00 V1589.50 M921.20 42.00 V56.50 M921.20 1575.00 V1589.50 M948.42 42.00 V56.50 M948.42 1575.00 V1589.50 M975.64 42.00 V71.50 M975.64 1575.00 V1604.00 M1002.86 42.00 V56.50 M1002.86 1575.00 V1589.50 M1030.09 42.00 V56.50 M1030.09 1575.00 V1589.50 M1057.31 42.00 V56.50 M1057.31 1575.00 V1589.50 M1084.53 42.00 V56.50 M1084.53 1575.00 V1589.50 M1111.75 42.00 V56.50 M1111.75 1575.00 V1589.50 M1138.97 42.00 V56.50 M1138.97 1575.00 V1589.50 M1166.19 42.00 V56.50 M1166.19 1575.00 V1589.50 M1193.41 42.00 V56.50 M1193.41 1575.00 V1589.50 M1220.64 42.00 V56.50 M1220.64 1575.00 V1589.50 M1247.86 42.00 V71.50 M1247.86 1575.00 V1604.00 M1275.08 42.00 V56.50 M1275.08 1575.00 V1589.50 M1302.30 42.00 V56.50 M1302.30 1575.00 V1589.50 M1329.52 42.00 V56.50 M1329.52 1575.00 V1589.50 M1356.74 42.00 V56.50 M1356.74 1575.00 V1589.50 M1383.96 42.00 V56.50 M1383.96 1575.00 V1589.50 M1411.19 42.00 V56.50 M1411.19 1575.00 V1589.50 M1438.41 42.00 V56.50 M1438.41 1575.00 V1589.50 M1465.63 42.00 V56.50 M1465.63 1575.00 V1589.50 M1492.85 42.00 V56.50 M1492.85 1575.00 V1589.50 M1520.07 42.00 V71.50 M1520.07 1575.00 V1604.00 M1547.29 42.00 V56.50 M1547.29 1575.00 V1589.50 M1574.51 42.00 V56.50 M1574.51 1575.00 V1589.50 M1601.74 42.00 V56.50 M1601.74 1575.00 V1589.50 M1628.96 42.00 V56.50 M1628.96 1575.00 V1589.50 M1656.18 42.00 V56.50 M1656.18 1575.00 V1589.50 M1683.40 42.00 V56.50 M1683.40 1575.00 V1589.50 M1710.62 42.00 V56.50 M1710.62 1575.00 V1589.50 M1737.84 42.00 V56.50 M1737.84 1575.00 V1589.50 M1765.06 42.00 V56.50 M1765.06 1575.00 V1589.50 M1792.29 42.00 V71.50 M1792.29 1575.00 V1604.00 M1819.51 42.00 V56.50 M1819.51 1575.00 V1589.50 M1846.73 42.00 V56.50 M1846.73 1575.00 V1589.50 M1873.95 42.00 V56.50 M1873.95 1575.00 V1589.50 M1901.17 42.00 V56.50 M1901.17 1575.00 V1589.50 M1928.39 42.00 V56.50 M1928.39 1575.00 V1589.50 M1955.61 42.00 V56.50 M1955.61 1575.00 V1589.50 M1982.84 42.00 V56.50 M1982.84 1575.00 V1589.50 M2010.06 42.00 V56.50 M2010.06 1575.00 V1589.50 M2037.28 42.00 V56.50 M2037.28 1575.00 V1589.50" stroke-width="5.2"/>
</g>
<g stroke="#000" fill="none" stroke-width="2.9">
<path d="M202.3 1499.2 H1311.5"/>
<path d="M203.20 1499.2 V1515.50 M241.20 1499.2 V1506.80 M279.20 1499.2 V1506.80 M317.20 1499.2 V1506.80 M355.20 1499.2 V1506.80 M393.20 1499.2 V1515.50 M431.21 1499.2 V1506.80 M469.21 1499.2 V1506.80 M507.21 1499.2 V1506.80 M545.21 1499.2 V1506.80 M583.21 1499.2 V1515.50 M621.21 1499.2 V1506.80 M659.21 1499.2 V1506.80 M697.21 1499.2 V1506.80 M735.21 1499.2 V1506.80 M773.21 1499.2 V1515.50 M811.22 1499.2 V1506.80 M849.22 1499.2 V1506.80 M887.22 1499.2 V1506.80 M925.22 1499.2 V1506.80 M963.22 1499.2 V1515.50 M1001.22 1499.2 V1506.80 M1039.22 1499.2 V1506.80 M1077.22 1499.2 V1506.80 M1115.22 1499.2 V1506.80 M1153.22 1499.2 V1515.50 M1191.23 1499.2 V1506.80 M1229.23 1499.2 V1506.80 M1267.23 1499.2 V1506.80 M1305.23 1499.2 V1506.80"/>
</g>
<g font-size="72" text-anchor="middle">
<text x="159.0" y="1681">4000</text>
<text x="431.2" y="1681">3500</text>
<text x="703.4" y="1681">3000</text>
<text x="975.6" y="1681">2500</text>
<text x="1247.9" y="1681">2000</text>
<text x="1520.1" y="1681">1500</text>
<text x="1792.3" y="1681">1000</text>
<text x="2064.5" y="1681">500</text>
</g>
<g font-size="40" text-anchor="middle">
<text x="203.2" y="1560">1650</text>
<text x="393.2" y="1560">1500</text>
<text x="583.2" y="1560">1350</text>
<text x="773.2" y="1560">1200</text>
<text x="963.2" y="1560">1050</text>
<text x="1153.2" y="1560">900</text>
</g>
<text font-weight="bold" font-size="87.35" text-anchor="middle" transform="translate(91 807.2) rotate(-90)">Transmittance (%)</text>
<text font-weight="bold" font-size="87" x="704.5" y="1831.7">Wavenumber (cm<tspan font-size="62" font-weight="normal" dy="-32" dx="-3">−</tspan><tspan font-size="58" dy="-6" dx="0">1</tspan><tspan dy="38">)</tspan></text>
<g font-size="51" text-anchor="middle">
<text x="628" y="352.3">N-H, O-H</text>
<text x="633" y="408.3">3390–2930</text>
<text x="478.7" y="520.4">1407</text>
<text x="649.2" y="521.9">1325</text>
<text x="493.8" y="1338.1">1395</text>
<text x="629.1" y="1296.3">1314</text>
<text x="1616.7" y="765.8">1640 to 1130</text>
<text x="1608.6" y="837.6">stretching modes</text>
<text x="1601" y="907.2">C-N, C=N</text>
<text x="1890" y="965.5">Tris-s-Triazine</text>
<text x="1897.7" y="1026.6">cycles</text>
</g>
<g font-size="51" text-anchor="middle">
<text transform="translate(1871.1 556.6) rotate(-90)">879</text>
<text transform="translate(1918.4 755.5) rotate(-90)">804</text>
<text transform="translate(2000.2 614) rotate(-90)">675</text>
<text transform="translate(2003.1 842.5) rotate(-90)">Zn-O</text>
</g>
<g stroke-width="6" stroke-linecap="round">
<path stroke="#000" d="M1656.5 1117.0 H1803.5"/>
<path stroke="#f00" d="M1656.5 1197.3 H1803.5"/>
<path stroke="#0f0" d="M1656.5 1277.7 H1803.5"/>
<path stroke="#00f" d="M1656.5 1358.0 H1803.5"/>
<path stroke="#0ff" d="M1656.5 1438.4 H1803.5"/>
<path stroke="#f0f" d="M1656.5 1518.8 H1803.5"/>
</g>
<g font-size="65">
<text x="1820" y="1139.0">Z100</text>
<text x="1820" y="1219.3">CNZ-5</text>
<text x="1820" y="1299.7">CNZ-10</text>
<text x="1820" y="1380.0">CNZ-20</text>
<text x="1820" y="1460.4">CNZ-40</text>
<text x="1820" y="1540.8">CN100</text>
</g>
</svg></body></html>
